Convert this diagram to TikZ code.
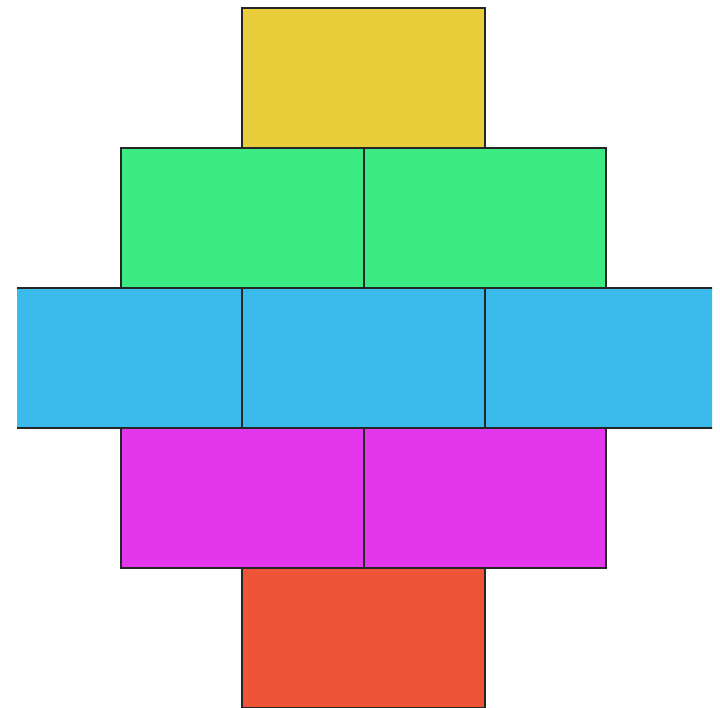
\documentclass[tikz,border=0pt]{standalone}
\definecolor{cyel}{HTML}{E9CD3A}
\definecolor{cgrn}{HTML}{3DEB85}
\definecolor{cblu}{HTML}{3BBBEB}
\definecolor{cmag}{HTML}{E237EA}
\definecolor{corg}{HTML}{EE5538}
\begin{document}
\begin{tikzpicture}[x=1pt,y=1pt,
  brick/.style={draw=black!85, line width=2pt, minimum width=242.5pt, minimum height=140pt, inner sep=0pt, outer sep=0pt}]
\useasboundingbox (0,0) rectangle (720,708);
\begin{scope}
\clip (17,0) rectangle (712,708);
\node[brick, fill=cyel] (y1) at (363.5,630) {};
\node[brick, fill=cgrn] (g1) at (242.5,490) {};
\node[brick, fill=cgrn] (g2) at (485,490) {};
\node[brick, fill=cblu] (b1) at (121,350) {};
\node[brick, fill=cblu] (b2) at (363.5,350) {};
\node[brick, fill=cblu] (b3) at (606,350) {};
\node[brick, fill=cmag] (m1) at (242.5,210) {};
\node[brick, fill=cmag] (m2) at (485,210) {};
\node[brick, fill=corg] (o1) at (363.5,70) {};
\end{scope}
\end{tikzpicture}
\end{document}
